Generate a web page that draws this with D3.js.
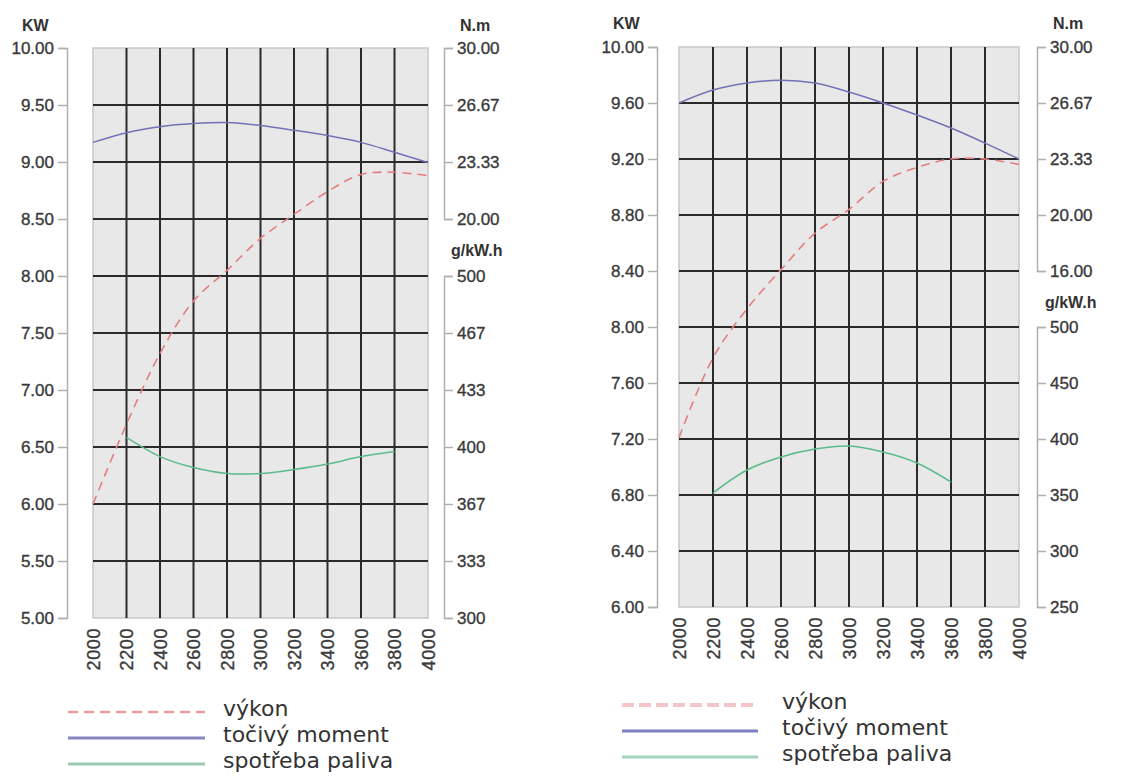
<!DOCTYPE html>
<html>
<head>
<meta charset="utf-8">
<script src="https://cdn.jsdelivr.net/npm/d3@7"></script>
<style>
  html, body { margin: 0; padding: 0; background: #fff; }
  svg { display: block; }
</style>
</head>
<body>
<svg id="chart" width="1146" height="776"></svg>
<script>
// ---------- DATA ----------
const rpmTicks = [2000, 2200, 2400, 2600, 2800, 3000, 3200, 3400, 3600, 3800, 4000];

// Left chart
const leftPowerKW   = [6.00, 6.70, 7.32, 7.78, 8.05, 8.33, 8.54, 8.74, 8.89, 8.91, 8.88];
const leftTorqueNm  = [24.48, 25.05, 25.40, 25.58, 25.64, 25.47, 25.19, 24.88, 24.48, 23.90, 23.30];
const leftFuelRpm   = [2200, 2400, 2600, 2800, 3000, 3200, 3400, 3600, 3800];
const leftFuelG     = [405.6, 394.4, 388.0, 384.5, 384.5, 386.8, 390.0, 394.4, 397.4];
const leftKwTicks   = [5.00, 5.50, 6.00, 6.50, 7.00, 7.50, 8.00, 8.50, 9.00, 9.50, 10.00];
const leftNmTicks   = [20.00, 23.33, 26.67, 30.00];
const leftGTicks    = [300, 333.33, 366.67, 400, 433.33, 466.67, 500];

// Right chart
const rightPowerKW  = [7.21, 7.78, 8.13, 8.41, 8.67, 8.84, 9.04, 9.14, 9.20, 9.20, 9.16];
const rightTorqueNm = [26.67, 27.44, 27.86, 28.03, 27.86, 27.32, 26.67, 25.95, 25.18, 24.28, 23.33];
const rightFuelRpm  = [2200, 2400, 2600, 2800, 3000, 3200, 3400, 3600];
const rightFuelG    = [351.8, 372.3, 384.0, 391.0, 393.8, 388.4, 378.6, 361.6];
const rightKwTicks  = [6.00, 6.40, 6.80, 7.20, 7.60, 8.00, 8.40, 8.80, 9.20, 9.60, 10.00];
const rightNmTicks  = [16.00, 20.00, 23.33, 26.67, 30.00];
const rightNmAtKw   = [8.40, 8.80, 9.20, 9.60, 10.00];
const rightGTicks   = [250, 300, 350, 400, 450, 500];

const legendLabels = ["výkon", "točivý moment", "spotřeba paliva"];

// ---------- DRAW ----------
const svg = d3.select("#chart");
const FONT = "'Liberation Sans', Arial, sans-serif";
const C_POWER = "#e47f7f", C_TORQUE = "#7272b6", C_FUEL = "#5cbb8a";

function drawChart(o) {
  const g = svg.append("g");
  const x = d3.scaleLinear().domain([2000, 4000]).range([o.x0, o.x1]);
  const yKw = d3.scaleLinear().domain(d3.extent(o.kwTicks)).range([o.y1, o.y0]);

  // panel
  g.append("rect").attr("x", o.x0).attr("y", o.y0)
    .attr("width", o.x1 - o.x0).attr("height", o.y1 - o.y0)
    .attr("fill", "#e8e8e8").attr("stroke", "#c8c8c8").attr("stroke-width", 1.5);

  // grid
  g.selectAll(".vg").data(rpmTicks.slice(1, -1)).join("line")
    .attr("x1", d => x(d)).attr("x2", d => x(d))
    .attr("y1", o.y0).attr("y2", o.y1)
    .attr("stroke", "#2a2a2a").attr("stroke-width", 2);
  g.selectAll(".hg").data(o.kwTicks.slice(1, -1)).join("line")
    .attr("x1", o.x0).attr("x2", o.x1)
    .attr("y1", d => yKw(d)).attr("y2", d => yKw(d))
    .attr("stroke", "#2a2a2a").attr("stroke-width", 2);

  // left KW axis
  const la = g.append("g").attr("transform", `translate(${o.axL},0)`)
    .call(d3.axisLeft(yKw).tickValues(o.kwTicks).tickFormat(d3.format(".2f")).tickSize(9).tickPadding(4));
  styleAxis(la, 17);

  // right Nm axis
  const ra = g.append("g").attr("transform", `translate(${o.axR},0)`)
    .call(d3.axisRight(o.yNm).tickValues(o.nmTicks).tickFormat(d3.format(".2f")).tickSize(9).tickPadding(4));
  styleAxis(ra, 17);

  // right g axis
  const ga = g.append("g").attr("transform", `translate(${o.axR},0)`)
    .call(d3.axisRight(o.yG).tickValues(o.gTicks).tickFormat(d3.format(".0f")).tickSize(9).tickPadding(4));
  styleAxis(ga, 17);

  // x axis labels (rotated)
  const xa = g.append("g").attr("transform", `translate(0,${o.y1})`)
    .call(d3.axisBottom(x).tickValues(rpmTicks).tickFormat(d3.format("d")).tickSize(0).tickPadding(0));
  xa.select(".domain").remove();
  xa.selectAll("text")
    .attr("transform", "rotate(-90)")
    .attr("x", -10).attr("y", 0).attr("dy", "0.35em")
    .attr("text-anchor", "end")
    .attr("font-family", FONT).attr("font-size", 18).attr("fill", "#3a3a3a")
    .attr("stroke", "#3a3a3a").attr("stroke-width", 0.35)
    .attr("letter-spacing", "0.6px");

  // unit labels
  const unit = (t, xx, yy) => g.append("text").text(t).attr("x", xx).attr("y", yy)
    .attr("text-anchor", "start").attr("dy", "0.35em")
    .attr("font-family", FONT).attr("font-weight", "bold").attr("font-size", 16).attr("fill", "#333");
  unit("KW", o.kwLabel[0], o.kwLabel[1]);
  unit("N.m", o.nmLabel[0], o.nmLabel[1]);
  unit("g/kW.h", o.gLabel[0], o.gLabel[1]);

  // curves
  const curve = d3.curveCatmullRom.alpha(0.5);
  g.append("path").datum(rpmTicks.map((r, i) => [r, o.power[i]]))
    .attr("d", d3.line().x(d => x(d[0])).y(d => yKw(d[1])).curve(curve))
    .attr("fill", "none").attr("stroke", C_POWER).attr("stroke-width", 1.6).attr("stroke-dasharray", "9,6");
  g.append("path").datum(rpmTicks.map((r, i) => [r, o.torque[i]]))
    .attr("d", d3.line().x(d => x(d[0])).y(d => o.yNm(d[1])).curve(curve))
    .attr("fill", "none").attr("stroke", C_TORQUE).attr("stroke-width", 1.5);
  g.append("path").datum(o.fuelRpm.map((r, i) => [r, o.fuel[i]]))
    .attr("d", d3.line().x(d => x(d[0])).y(d => o.yG(d[1])).curve(curve))
    .attr("fill", "none").attr("stroke", C_FUEL).attr("stroke-width", 1.5);

  // legend
  const lg = g.append("g");
  const styles = o.legendStyles;
  legendLabels.forEach((t, i) => {
    const yy = o.legY + i * o.legStep;
    lg.append("line").attr("x1", o.legX0).attr("x2", o.legX1).attr("y1", yy - 4).attr("y2", yy - 4)
      .attr("stroke", styles[i].c).attr("stroke-width", styles[i].w)
      .attr("stroke-dasharray", styles[i].dash || null);
    lg.append("text").text(t)
      .attr("x", o.legTextX).attr("y", yy)
      .attr("font-family", "'DejaVu Sans', Verdana, sans-serif").attr("font-size", 22).attr("fill", "#333");
  });
}

function styleAxis(a, fs) {
  a.select(".domain").attr("stroke", "#b0b0b0").attr("stroke-width", 1.5);
  a.selectAll(".tick line").attr("stroke", "#b0b0b0").attr("stroke-width", 1.5);
  a.selectAll("text").attr("font-family", FONT).attr("font-size", fs).attr("fill", "#3a3a3a")
    .attr("stroke", "#3a3a3a").attr("stroke-width", 0.35);
}

// Left chart scales
const L = { x0: 93, x1: 428, y0: 48, y1: 618 };
const lyKw = d3.scaleLinear().domain([5, 10]).range([L.y1, L.y0]);
drawChart(Object.assign(L, {
  kwTicks: leftKwTicks, nmTicks: leftNmTicks, gTicks: leftGTicks,
  yNm: d3.scaleLinear().domain([20, 30]).range([lyKw(8.5), lyKw(10)]),
  yG: d3.scaleLinear().domain([300, 500]).range([lyKw(5), lyKw(8)]),
  axL: 67, axR: 444,
  power: leftPowerKW, torque: leftTorqueNm, fuelRpm: leftFuelRpm, fuel: leftFuelG,
  kwLabel: [22, 25], nmLabel: [460, 25], gLabel: [451, 250],
  legX0: 68, legX1: 205, legTextX: 223, legY: 716, legStep: 26,
  legendStyles: [{ c: "#e69a9a", w: 2.5, dash: "10,6" }, { c: "#8686c2", w: 3 }, { c: "#9acbb2", w: 3 }]
}));

// Right chart scales
const R = { x0: 679, x1: 1019, y0: 47, y1: 607 };
const ryKw = d3.scaleLinear().domain([6, 10]).range([R.y1, R.y0]);
drawChart(Object.assign(R, {
  kwTicks: rightKwTicks, nmTicks: rightNmTicks, gTicks: rightGTicks,
  yNm: d3.scaleLinear().domain(rightNmTicks).range(rightNmAtKw.map(v => ryKw(v))),
  yG: d3.scaleLinear().domain([250, 500]).range([ryKw(6), ryKw(8)]),
  axL: 657, axR: 1037,
  power: rightPowerKW, torque: rightTorqueNm, fuelRpm: rightFuelRpm, fuel: rightFuelG,
  kwLabel: [613, 23], nmLabel: [1053, 23], gLabel: [1045, 302],
  legX0: 622, legX1: 758, legTextX: 782, legY: 709, legStep: 26,
  legendStyles: [{ c: "#f2c6c6", w: 4, dash: "12,5" }, { c: "#7e7ebe", w: 3 }, { c: "#a4d4bc", w: 3 }]
}));
</script>
</body>
</html>
